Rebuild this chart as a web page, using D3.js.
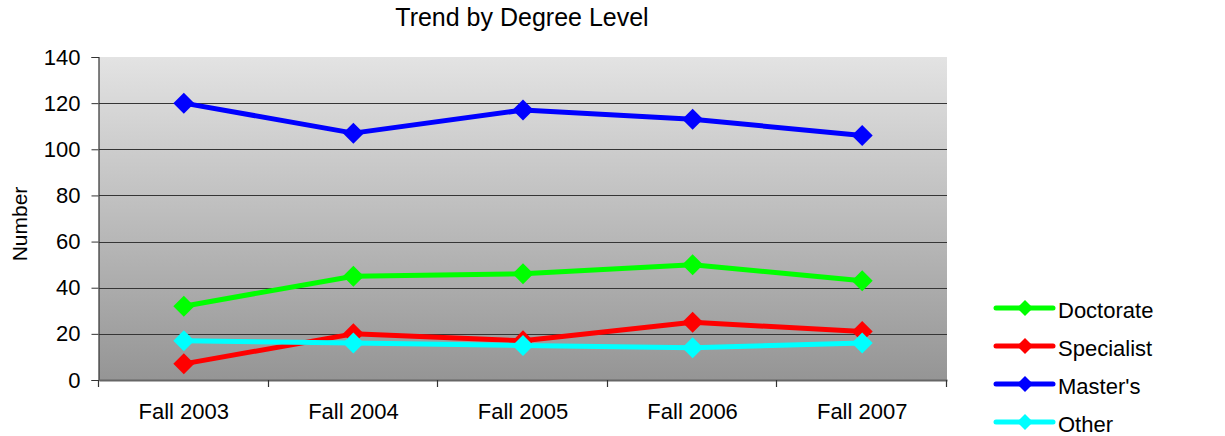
<!DOCTYPE html>
<html>
<head>
<meta charset="utf-8">
<script src="https://cdn.jsdelivr.net/npm/d3@7"></script>
<style>
  html, body { margin: 0; padding: 0; background: #fff; }
  svg { display: block; font-family: "Liberation Sans", Arial, sans-serif; }
</style>
</head>
<body>
<svg id="chart" width="1225" height="436"></svg>
<script>
const categories = ["Fall 2003", "Fall 2004", "Fall 2005", "Fall 2006", "Fall 2007"];
const seriesNames = ["Doctorate", "Specialist", "Master's", "Other"];
const doctorate  = [32, 45, 46, 50, 43];
const specialist = [7, 20, 17, 25, 21];
const masters    = [120, 107, 117, 113, 106];
const other      = [17, 16, 15, 14, 16];
const yTicks = [0, 20, 40, 60, 80, 100, 120, 140];
const colors = ["#00ff00", "#ff0000", "#0000ff", "#00ffff"];

const series = [doctorate, specialist, masters, other].map((vals, i) => ({
  name: seriesNames[i], color: colors[i], values: vals
}));

const svg = d3.select("#chart");
const plot = { left: 99, right: 947, top: 57, bottom: 380 };

const x = d3.scaleBand().domain(categories).range([plot.left, plot.right]).padding(0);
const y = d3.scaleLinear().domain([0, 140]).range([plot.bottom, plot.top]);

// background gradient
const defs = svg.append("defs");
const grad = defs.append("linearGradient").attr("id", "bg").attr("x1", 0).attr("y1", 0).attr("x2", 0).attr("y2", 1);
grad.append("stop").attr("offset", "0%").attr("stop-color", "#e3e3e3");
grad.append("stop").attr("offset", "100%").attr("stop-color", "#959595");

svg.append("rect")
  .attr("x", plot.left).attr("y", plot.top)
  .attr("width", plot.right - plot.left).attr("height", plot.bottom - plot.top)
  .attr("fill", "url(#bg)");

// gridlines
svg.append("g").selectAll("line")
  .data(yTicks.filter(t => t > 0 && t < 140))
  .join("line")
  .attr("x1", plot.left).attr("x2", plot.right)
  .attr("y1", d => Math.round(y(d)) + 0.5).attr("y2", d => Math.round(y(d)) + 0.5)
  .attr("stroke", "#353535").attr("stroke-width", 1.2);

// y axis
const yAxis = svg.append("g")
  .attr("transform", `translate(${plot.left - 0.5},0)`)
  .call(d3.axisLeft(y).tickValues(yTicks).tickSize(7).tickPadding(11));
yAxis.select(".domain").attr("stroke", "#333").attr("stroke-width", 1.2);
yAxis.selectAll(".tick line").attr("stroke", "#333");
yAxis.selectAll("text").attr("font-size", 22).attr("fill", "#000")
  .attr("font-family", "'Liberation Sans', Arial, sans-serif");

// x axis labels
const xAxis = svg.append("g")
  .attr("transform", `translate(0,${plot.bottom})`)
  .call(d3.axisBottom(x).tickSize(0).tickPadding(23));
xAxis.select(".domain").attr("stroke", "#666").attr("stroke-width", 2);
xAxis.selectAll("text").attr("font-size", 22).attr("fill", "#000")
  .attr("font-family", "'Liberation Sans', Arial, sans-serif");

// x axis boundary ticks
const bounds = categories.map(c => x(c)).concat([x.range()[1]]);
svg.append("g").selectAll("line").data(bounds).join("line")
  .attr("x1", d => Math.round(d) - 0.5).attr("x2", d => Math.round(d) - 0.5)
  .attr("y1", plot.bottom).attr("y2", plot.bottom + 7)
  .attr("stroke", "#333").attr("stroke-width", 1.2);

// series
const line = d3.line()
  .x((d, i) => x(categories[i]) + x.bandwidth() / 2)
  .y(d => y(d));
const diamond = (cx, cy, r) => `M${cx},${cy - r}L${cx + r},${cy}L${cx},${cy + r}L${cx - r},${cy}Z`;

series.forEach(s => {
  const g = svg.append("g");
  g.append("path").datum(s.values)
    .attr("d", line).attr("fill", "none")
    .attr("stroke", s.color).attr("stroke-width", 5)
    .attr("stroke-linejoin", "round");
  g.selectAll("path.m").data(s.values).join("path").attr("class", "m")
    .attr("d", (d, i) => diamond(x(categories[i]) + x.bandwidth() / 2, y(d), 10.5))
    .attr("fill", s.color);
});

// title
svg.append("text")
  .attr("x", 522).attr("y", 26)
  .attr("text-anchor", "middle")
  .attr("font-size", 25)
  .text("Trend by Degree Level");

// y label
svg.append("text")
  .attr("transform", "translate(27,224) rotate(-90)")
  .attr("text-anchor", "middle")
  .attr("font-size", 21)
  .text("Number");

// legend
const legend = svg.append("g");
series.forEach((s, i) => {
  const cy = 308 + i * 38;
  legend.append("line")
    .attr("x1", 996).attr("x2", 1053).attr("y1", cy).attr("y2", cy)
    .attr("stroke", s.color).attr("stroke-width", 5).attr("stroke-linecap", "round");
  legend.append("path").attr("d", diamond(1025, cy, 8)).attr("fill", s.color);
  legend.append("text").attr("x", 1058).attr("y", cy + 10)
    .attr("font-size", 22).text(s.name);
});
</script>
</body>
</html>
